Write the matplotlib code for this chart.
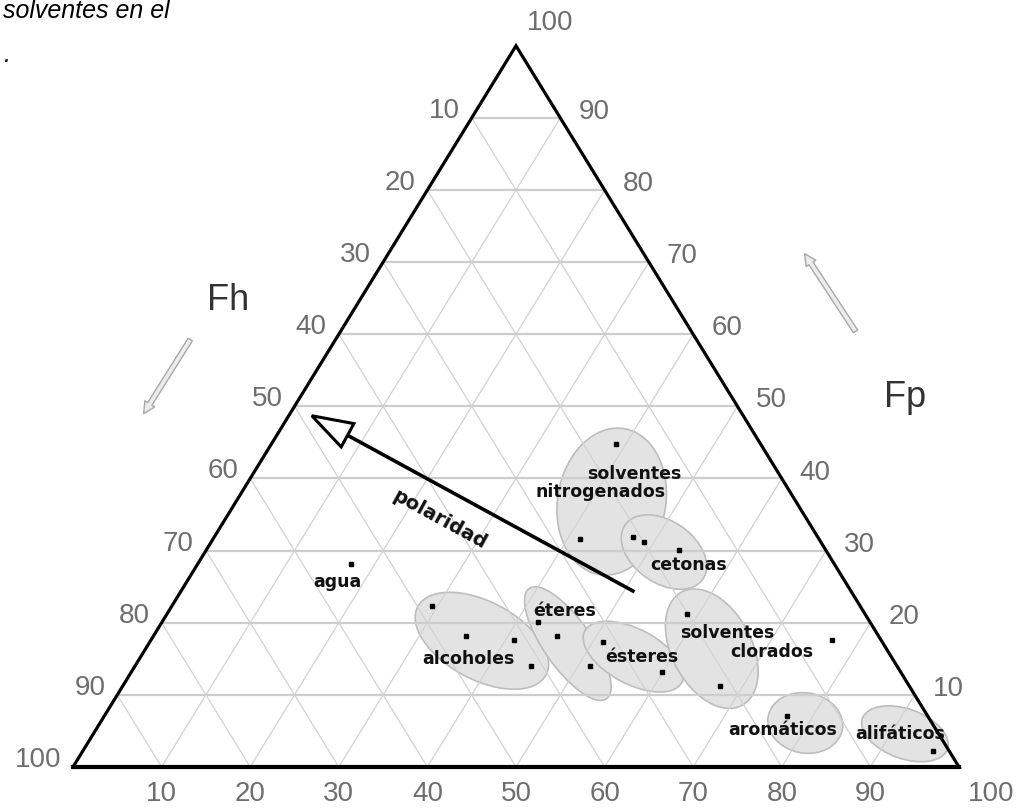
import matplotlib
matplotlib.use('Agg')
import matplotlib.pyplot as plt
from matplotlib.patches import Ellipse, Polygon
import numpy as np

# Teas diagram: each solvent as (fd, fp), fh = 100 - fd - fp
groups = ['nitrogenados', 'cetonas', 'agua', 'alcoholes', 'eteres',
          'esteres', 'clorados', 'aromaticos', 'alifaticos']
group_fd = [[38.9, 41.4], [47.3, 48.8, 53.4], [17.3], [29.4, 35.3, 41.0, 44.7],
            [42.4, 45.5, 51.4], [51.2, 59.9], [58.7, 67.4, 76.9], [77.0], [96.0]]
group_fp = [[44.8, 31.6], [31.9, 31.2, 30.1], [28.2], [22.3, 18.2, 17.6, 14.0],
            [20.1, 18.2, 14.0], [17.3, 13.2], [21.2, 11.2, 17.6], [7.1], [2.2]]

# shaded zones of each family (centre fd, fp, length, thickness, tilt)
zone_fd = [42.4, 51.8, 37.4, 47.3, 55.6, 63.9, 79.6, 91.6]
zone_fp = [36.8, 29.8, 17.5, 17.1, 15.3, 16.4, 6.1, 4.6]
zone_len = [16.7, 10.7, 16.4, 15.2, 12.4, 14.5, 8.5, 10.2]
zone_thick = [12.2, 7.0, 8.8, 5.4, 6.2, 9.0, 6.8, 5.6]
zone_tilt = [80, -35, -28, -55, -28, -62, -10, -20]

label_text = ['solventes', 'nitrogenados', 'cetonas', 'agua', 'alcoholes', 'éteres',
              'ésteres', 'solventes', 'clorados', 'aromáticos', 'alifáticos']
label_fd = [42.9, 40.4, 55.4, 16.9, 37.1, 44.6, 56.5, 64.5, 70.8, 77.4, 91.0]
label_fp = [40.8, 38.3, 28.2, 25.8, 15.1, 21.8, 15.4, 18.7, 16.1, 5.3, 4.7]

# polaridad arrow, from (fd, fp) to (fd, fp)
polar_fd = [51.0, 2.6]
polar_fp = [24.4, 48.7]

tick_values = [10, 20, 30, 40, 50, 60, 70, 80, 90, 100]

H = 81.4  # triangle height in x units (picture is a bit squashed)


def tern(fd, fp):
    fd = np.asarray(fd, dtype=float)
    fp = np.asarray(fp, dtype=float)
    return fd + fp / 2, fp * H / 100


fig = plt.figure(figsize=(10.28, 8.12), dpi=100)
ax = fig.add_axes([0, 0, 1, 1])
ax.set_xlim(-8.24, 107.79)
ax.set_ylim(-4.97, 86.68)
ax.axis('off')

# shaded zones
for i in range(len(zone_fd)):
    cx, cy = tern(zone_fd[i], zone_fp[i])
    ax.add_patch(Ellipse((cx, cy), zone_len[i], zone_thick[i], angle=zone_tilt[i],
                         facecolor='#e3e3e3', edgecolor='#bdbdbd', lw=1.2, zorder=1))

# grid
for v in range(10, 100, 10):
    x, y = tern([0, 100 - v], [v, v])
    ax.plot(x, y, color='#cdcdcd', lw=1.6, zorder=2)
    x, y = tern([v, v], [0, 100 - v])
    ax.plot(x, y, color='#d2d2d2', lw=0.9, zorder=2)
    x, y = tern([100 - v, 0], [0, 100 - v])
    ax.plot(x, y, color='#d2d2d2', lw=0.9, zorder=2)

# triangle
x, y = tern([0, 100, 0, 0], [0, 0, 100, 0])
ax.plot(x, y, color='black', lw=2.3, zorder=4, solid_joinstyle='miter')
x, y = tern([0, 100], [0, 0])
ax.plot(x, y, color='black', lw=3.0, zorder=4)

# solvents
for fd, fp in zip(group_fd, group_fp):
    x, y = tern(fd, fp)
    ax.plot(x, y, 's', color='black', ms=2.4, zorder=5)

for t, fd, fp in zip(label_text, label_fd, label_fp):
    x, y = tern(fd, fp)
    ax.text(x, y, t, fontsize=12.5, fontweight='bold', color='#111111',
            ha='center', va='center', zorder=6)

# polaridad arrow
x, y = tern(polar_fd, polar_fp)
tail = np.array([x[0], y[0]])
tip = np.array([x[1], y[1]])
u = (tip - tail) / np.hypot(*(tip - tail))
n = np.array([-u[1], u[0]])
base = tip - 4.6 * u
ax.plot([tail[0], base[0]], [tail[1], base[1]], color='black', lw=2.6, zorder=5)
ax.add_patch(Polygon([tip, base + 1.5 * n, base - 1.5 * n], closed=True,
                     facecolor='white', edgecolor='black', lw=2.2, zorder=5))
ang = np.degrees(np.arctan2(u[1], u[0])) + 180
mx, my = tern(24.2, 34.4)
ax.text(mx, my, 'polaridad', rotation=ang, rotation_mode='anchor', fontsize=14,
        fontweight='bold', color='#111111', ha='center', va='center', zorder=6)

# axis numbers
num = dict(fontsize=20, color='#6e6e6e', family='Liberation Sans', zorder=6)
for v in tick_values:
    x, y = tern(v, 0)
    dx = 23 if v == 100 else 0
    ax.annotate(str(v), (x, y), xytext=(dx, -18.7), textcoords='offset points',
                ha='center', va='center', **num)
    x, y = tern(0, 100 - v)
    ax.annotate(str(v), (x, y), xytext=(-8.6, 5.8), textcoords='offset points',
                ha='right', va='center', **num)
    x, y = tern(100 - v, v)
    off = (8, 17) if v == 100 else (13, 5)
    ax.annotate(str(v), (x, y), xytext=off, textcoords='offset points',
                ha='left', va='center', **num)

# axis names and the little direction arrows
ax.text(17.5, 52.8, 'Fh', fontsize=26, color='#333333', family='Liberation Sans',
        ha='center', va='center')
ax.text(93.9, 41.8, 'Fp', fontsize=26, color='#333333', family='Liberation Sans',
        ha='center', va='center')
grey_arrow = dict(arrowstyle='simple,head_length=0.7,head_width=0.7,tail_width=0.3',
                  fc='#ececec', ec='#a8a8a8', lw=1, mutation_scale=12)
ax.annotate('', xy=(7.8, 39.6), xytext=(13.4, 48.5), arrowprops=grey_arrow)
ax.annotate('', xy=(82.4, 58.2), xytext=(88.5, 48.9), arrowprops=grey_arrow)

# caption fragment cut off at the top left
fig.text(170 / 1028, 1 - 18 / 812, 'solventes en el', fontsize=18, style='italic',
         family='Liberation Sans', ha='right', va='baseline', color='black')
fig.text(10 / 1028, 1 - 62 / 812, '.', fontsize=18, style='italic',
         family='Liberation Sans', ha='right', va='baseline', color='black')

fig.savefig('out.png', dpi=100)
